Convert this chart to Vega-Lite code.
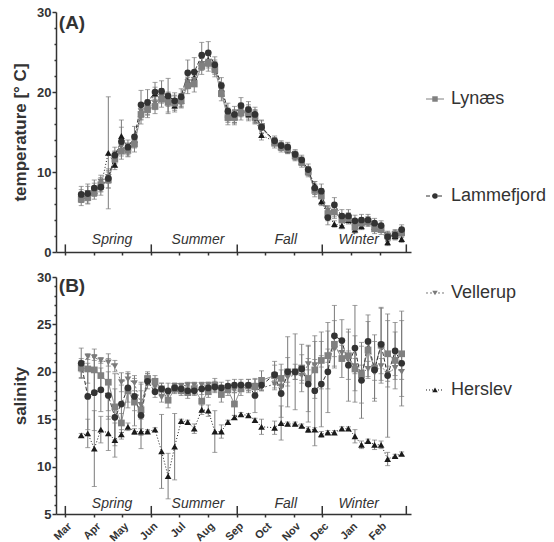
{
"$schema":"https://vega.github.io/schema/vega-lite/v6.json",
"padding":{"left":11,"top":6,"right":0,"bottom":0},
"config":{"view":{"stroke":null},"font":"Liberation Sans",
"axis":{"grid":false,"domainColor":"#333","domainWidth":1.5,"tickColor":"#333","tickWidth":1.5,"labelFont":"Liberation Sans","labelFontWeight":"bold","labelFontSize":13,"labelColor":"#333","labelPadding":1,"titleFont":"Liberation Sans","titleFontWeight":"bold","titleFontSize":17,"titleColor":"#333"}},
"datasets":{
"div":[{"d":"2018-03-01"},{"d":"2018-06-01"},{"d":"2018-09-01"},{"d":"2018-12-01"},{"d":"2019-03-01"}],
"sea":[{"d":"2018-04-20","n":"Spring"},{"d":"2018-07-21","n":"Summer"},{"d":"2018-10-23","n":"Fall"},{"d":"2019-01-09","n":"Winter"}],
"sites":[{"s":"Lynæs"},{"s":"Lammefjord"},{"s":"Vellerup"},{"s":"Herslev"}],
"lab":[{"p":"A","lab":"(A)","d":"2018-02-22"},{"p":"B","lab":"(B)","d":"2018-02-22"}],
"obs":[
{"s":"Herslev","d":"2018-03-18","t":6.8,"te":0.6,"a":13.3,"ae":0.2},
{"s":"Herslev","d":"2018-03-25","t":7.0,"te":0.6,"a":13.5,"ae":1.5},
{"s":"Herslev","d":"2018-04-01","t":7.6,"te":0.6,"a":11.9,"ae":4.0},
{"s":"Herslev","d":"2018-04-08","t":8.2,"te":0.6,"a":13.9,"ae":1.4},
{"s":"Herslev","d":"2018-04-16","t":12.4,"te":7.0,"a":13.5,"ae":1.8},
{"s":"Herslev","d":"2018-04-23","t":10.9,"te":0.6,"a":12.8,"ae":1.8},
{"s":"Herslev","d":"2018-04-30","t":14.5,"te":2.0,"a":13.4,"ae":0.5},
{"s":"Herslev","d":"2018-05-07","t":13.0,"te":0.6,"a":14.2,"ae":0.4},
{"s":"Herslev","d":"2018-05-14","t":14.0,"te":0.6,"a":13.7,"ae":0.3},
{"s":"Herslev","d":"2018-05-21","t":17.3,"te":0.8,"a":13.7,"ae":0.3},
{"s":"Herslev","d":"2018-05-28","t":18.2,"te":0.8,"a":13.7,"ae":0.2},
{"s":"Herslev","d":"2018-06-05","t":19.8,"te":0.8,"a":13.9,"ae":0.2},
{"s":"Herslev","d":"2018-06-12","t":19.6,"te":0.8,"a":11.6,"ae":3.9},
{"s":"Herslev","d":"2018-06-19","t":19.2,"te":0.8,"a":9.0,"ae":2.4},
{"s":"Herslev","d":"2018-06-26","t":18.3,"te":0.8,"a":12.1,"ae":3.5},
{"s":"Herslev","d":"2018-07-03","t":18.9,"te":0.8,"a":14.8,"ae":0.2},
{"s":"Herslev","d":"2018-07-10","t":21.4,"te":0.8,"a":14.7,"ae":0.2},
{"s":"Herslev","d":"2018-07-17","t":21.8,"te":0.8,"a":14.0,"ae":0.5},
{"s":"Herslev","d":"2018-07-25","t":23.6,"te":0.8,"a":16.0,"ae":0.5},
{"s":"Herslev","d":"2018-08-01","t":24.0,"te":0.8,"a":15.9,"ae":0.6},
{"s":"Herslev","d":"2018-08-08","t":23.2,"te":0.8,"a":13.7,"ae":2.2},
{"s":"Herslev","d":"2018-08-15","t":20.4,"te":0.8,"a":13.7,"ae":0.7},
{"s":"Herslev","d":"2018-08-22","t":17.2,"te":0.8,"a":14.7,"ae":0.2},
{"s":"Herslev","d":"2018-08-29","t":16.9,"te":0.8,"a":15.2,"ae":0.2},
{"s":"Herslev","d":"2018-09-05","t":17.8,"te":0.8,"a":15.5,"ae":0.2},
{"s":"Herslev","d":"2018-09-13","t":17.2,"te":0.8,"a":15.4,"ae":0.2},
{"s":"Herslev","d":"2018-09-20","t":16.8,"te":0.8,"a":14.9,"ae":0.2},
{"s":"Herslev","d":"2018-09-27","t":14.6,"te":0.6,"a":14.2,"ae":0.8},
{"s":"Herslev","d":"2018-10-11","t":13.8,"te":0.5,"a":14.1,"ae":0.7},
{"s":"Herslev","d":"2018-10-18","t":13.2,"te":0.5,"a":14.6,"ae":1.8},
{"s":"Herslev","d":"2018-10-25","t":12.8,"te":0.5,"a":14.5,"ae":0.2},
{"s":"Herslev","d":"2018-11-02","t":12.0,"te":0.5,"a":14.5,"ae":0.2},
{"s":"Herslev","d":"2018-11-09","t":11.3,"te":0.5,"a":14.3,"ae":0.2},
{"s":"Herslev","d":"2018-11-16","t":10.2,"te":0.5,"a":13.9,"ae":0.3},
{"s":"Herslev","d":"2018-11-23","t":8.3,"te":0.5,"a":13.9,"ae":0.2},
{"s":"Herslev","d":"2018-11-30","t":6.3,"te":0.5,"a":13.4,"ae":0.3},
{"s":"Herslev","d":"2018-12-07","t":4.6,"te":0.5,"a":13.6,"ae":0.2},
{"s":"Herslev","d":"2018-12-14","t":3.5,"te":0.4,"a":13.6,"ae":0.2},
{"s":"Herslev","d":"2018-12-22","t":3.3,"te":0.4,"a":14.0,"ae":0.2},
{"s":"Herslev","d":"2018-12-29","t":4.0,"te":0.4,"a":14.0,"ae":0.2},
{"s":"Herslev","d":"2019-01-05","t":2.8,"te":0.4,"a":13.2,"ae":0.7},
{"s":"Herslev","d":"2019-01-12","t":3.2,"te":0.4,"a":12.3,"ae":0.4},
{"s":"Herslev","d":"2019-01-19","t":3.8,"te":0.4,"a":12.7,"ae":0.2},
{"s":"Herslev","d":"2019-01-26","t":3.1,"te":0.4,"a":12.3,"ae":0.5},
{"s":"Herslev","d":"2019-02-02","t":2.9,"te":0.4,"a":12.3,"ae":0.4},
{"s":"Herslev","d":"2019-02-09","t":1.2,"te":0.4,"a":10.8,"ae":0.7},
{"s":"Herslev","d":"2019-02-17","t":2.0,"te":0.4,"a":11.1,"ae":0.2},
{"s":"Herslev","d":"2019-02-24","t":1.6,"te":0.4,"a":11.35,"ae":0.2},
{"s":"Vellerup","d":"2018-03-18","t":7.0,"te":0.8,"a":20.6,"ae":0.6},
{"s":"Vellerup","d":"2018-03-25","t":7.4,"te":0.8,"a":21.6,"ae":0.3},
{"s":"Vellerup","d":"2018-04-01","t":7.8,"te":0.8,"a":21.5,"ae":0.3},
{"s":"Vellerup","d":"2018-04-08","t":8.8,"te":0.8,"a":21.2,"ae":0.3},
{"s":"Vellerup","d":"2018-04-16","t":9.4,"te":0.8,"a":21.0,"ae":0.4},
{"s":"Vellerup","d":"2018-04-23","t":11.8,"te":0.8,"a":20.6,"ae":0.6},
{"s":"Vellerup","d":"2018-04-30","t":13.2,"te":0.8,"a":18.9,"ae":1.0},
{"s":"Vellerup","d":"2018-05-07","t":12.8,"te":0.8,"a":19.2,"ae":0.8},
{"s":"Vellerup","d":"2018-05-14","t":13.8,"te":0.8,"a":18.8,"ae":0.8},
{"s":"Vellerup","d":"2018-05-21","t":17.6,"te":0.8,"a":16.5,"ae":1.5},
{"s":"Vellerup","d":"2018-05-28","t":18.0,"te":0.8,"a":19.2,"ae":0.6},
{"s":"Vellerup","d":"2018-06-05","t":18.6,"te":0.8,"a":18.4,"ae":0.5},
{"s":"Vellerup","d":"2018-06-12","t":19.4,"te":0.8,"a":17.3,"ae":0.5},
{"s":"Vellerup","d":"2018-06-19","t":19.0,"te":0.8,"a":17.6,"ae":0.5},
{"s":"Vellerup","d":"2018-06-26","t":18.8,"te":0.8,"a":18.5,"ae":0.3},
{"s":"Vellerup","d":"2018-07-03","t":19.0,"te":0.8,"a":18.5,"ae":0.3},
{"s":"Vellerup","d":"2018-07-10","t":21.2,"te":0.8,"a":18.6,"ae":0.3},
{"s":"Vellerup","d":"2018-07-17","t":21.5,"te":0.8,"a":18.6,"ae":0.3},
{"s":"Vellerup","d":"2018-07-25","t":23.5,"te":0.8,"a":18.6,"ae":0.3},
{"s":"Vellerup","d":"2018-08-01","t":23.8,"te":0.8,"a":18.6,"ae":0.3},
{"s":"Vellerup","d":"2018-08-08","t":23.0,"te":0.8,"a":18.3,"ae":0.3},
{"s":"Vellerup","d":"2018-08-15","t":20.2,"te":0.8,"a":18.3,"ae":0.3},
{"s":"Vellerup","d":"2018-08-22","t":17.0,"te":0.8,"a":18.3,"ae":0.3},
{"s":"Vellerup","d":"2018-08-29","t":17.0,"te":0.8,"a":18.1,"ae":0.3},
{"s":"Vellerup","d":"2018-09-05","t":17.7,"te":0.8,"a":18.5,"ae":0.3},
{"s":"Vellerup","d":"2018-09-13","t":17.6,"te":0.8,"a":18.3,"ae":0.3},
{"s":"Vellerup","d":"2018-09-20","t":17.0,"te":0.8,"a":18.5,"ae":0.3},
{"s":"Vellerup","d":"2018-09-27","t":15.4,"te":0.6,"a":18.3,"ae":0.3},
{"s":"Vellerup","d":"2018-10-11","t":13.8,"te":0.5,"a":18.7,"ae":0.4},
{"s":"Vellerup","d":"2018-10-18","t":13.2,"te":0.5,"a":18.4,"ae":0.4},
{"s":"Vellerup","d":"2018-10-25","t":12.9,"te":0.5,"a":19.4,"ae":0.5},
{"s":"Vellerup","d":"2018-11-02","t":12.1,"te":0.5,"a":19.7,"ae":0.5},
{"s":"Vellerup","d":"2018-11-09","t":11.4,"te":0.5,"a":19.6,"ae":0.5},
{"s":"Vellerup","d":"2018-11-16","t":10.1,"te":0.5,"a":20.8,"ae":0.6},
{"s":"Vellerup","d":"2018-11-23","t":7.8,"te":0.6,"a":20.7,"ae":0.6},
{"s":"Vellerup","d":"2018-11-30","t":7.3,"te":0.6,"a":21.1,"ae":0.6},
{"s":"Vellerup","d":"2018-12-07","t":5.2,"te":0.6,"a":21.7,"ae":0.7},
{"s":"Vellerup","d":"2018-12-14","t":5.0,"te":0.6,"a":22.4,"ae":0.8},
{"s":"Vellerup","d":"2018-12-22","t":4.3,"te":0.5,"a":22.0,"ae":0.8},
{"s":"Vellerup","d":"2018-12-29","t":4.3,"te":0.5,"a":21.4,"ae":0.8},
{"s":"Vellerup","d":"2019-01-05","t":3.4,"te":0.5,"a":20.6,"ae":0.8},
{"s":"Vellerup","d":"2019-01-12","t":3.8,"te":0.5,"a":19.9,"ae":0.8},
{"s":"Vellerup","d":"2019-01-19","t":3.9,"te":0.5,"a":20.3,"ae":0.8},
{"s":"Vellerup","d":"2019-01-26","t":3.2,"te":0.5,"a":19.9,"ae":0.8},
{"s":"Vellerup","d":"2019-02-02","t":3.0,"te":0.5,"a":20.6,"ae":0.8},
{"s":"Vellerup","d":"2019-02-09","t":1.9,"te":0.5,"a":19.8,"ae":0.8},
{"s":"Vellerup","d":"2019-02-17","t":2.1,"te":0.5,"a":20.4,"ae":0.8},
{"s":"Vellerup","d":"2019-02-24","t":2.5,"te":0.5,"a":20.0,"ae":0.8},
{"s":"Lynæs","d":"2018-03-18","t":6.6,"te":0.8,"a":20.4,"ae":1.0},
{"s":"Lynæs","d":"2018-03-25","t":6.8,"te":0.8,"a":20.3,"ae":1.5},
{"s":"Lynæs","d":"2018-04-01","t":7.4,"te":0.8,"a":20.2,"ae":2.2},
{"s":"Lynæs","d":"2018-04-08","t":8.4,"te":0.9,"a":19.6,"ae":1.5},
{"s":"Lynæs","d":"2018-04-16","t":9.0,"te":1.0,"a":18.9,"ae":3.0},
{"s":"Lynæs","d":"2018-04-23","t":11.6,"te":1.0,"a":16.3,"ae":3.5},
{"s":"Lynæs","d":"2018-04-30","t":12.6,"te":1.0,"a":14.6,"ae":1.0},
{"s":"Lynæs","d":"2018-05-07","t":12.7,"te":0.8,"a":18.0,"ae":1.8},
{"s":"Lynæs","d":"2018-05-14","t":13.5,"te":1.0,"a":16.8,"ae":2.5},
{"s":"Lynæs","d":"2018-05-21","t":17.2,"te":1.2,"a":16.0,"ae":2.7},
{"s":"Lynæs","d":"2018-05-28","t":17.8,"te":1.0,"a":19.3,"ae":0.7},
{"s":"Lynæs","d":"2018-06-05","t":18.2,"te":0.9,"a":19.0,"ae":0.6},
{"s":"Lynæs","d":"2018-06-12","t":19.1,"te":1.0,"a":18.2,"ae":0.6},
{"s":"Lynæs","d":"2018-06-19","t":18.7,"te":1.2,"a":17.0,"ae":0.8},
{"s":"Lynæs","d":"2018-06-26","t":18.6,"te":0.9,"a":18.2,"ae":0.5},
{"s":"Lynæs","d":"2018-07-03","t":18.9,"te":0.9,"a":18.0,"ae":0.5},
{"s":"Lynæs","d":"2018-07-10","t":20.8,"te":1.0,"a":17.8,"ae":0.6},
{"s":"Lynæs","d":"2018-07-17","t":21.0,"te":1.0,"a":18.2,"ae":0.6},
{"s":"Lynæs","d":"2018-07-25","t":23.2,"te":1.0,"a":16.9,"ae":1.0},
{"s":"Lynæs","d":"2018-08-01","t":23.6,"te":1.0,"a":17.9,"ae":0.6},
{"s":"Lynæs","d":"2018-08-08","t":22.8,"te":0.9,"a":18.6,"ae":0.7},
{"s":"Lynæs","d":"2018-08-15","t":19.8,"te":0.9,"a":17.6,"ae":0.8},
{"s":"Lynæs","d":"2018-08-22","t":16.8,"te":0.9,"a":18.1,"ae":0.6},
{"s":"Lynæs","d":"2018-08-29","t":16.8,"te":0.9,"a":16.6,"ae":1.2},
{"s":"Lynæs","d":"2018-09-05","t":17.4,"te":0.9,"a":18.2,"ae":0.7},
{"s":"Lynæs","d":"2018-09-13","t":17.4,"te":0.8,"a":18.5,"ae":0.7},
{"s":"Lynæs","d":"2018-09-20","t":16.9,"te":0.8,"a":18.4,"ae":0.8},
{"s":"Lynæs","d":"2018-09-27","t":15.7,"te":0.8,"a":19.1,"ae":1.0},
{"s":"Lynæs","d":"2018-10-11","t":13.6,"te":0.6,"a":19.6,"ae":1.5},
{"s":"Lynæs","d":"2018-10-18","t":13.1,"te":0.6,"a":19.3,"ae":1.5},
{"s":"Lynæs","d":"2018-10-25","t":12.9,"te":0.6,"a":20.0,"ae":3.7},
{"s":"Lynæs","d":"2018-11-02","t":12.0,"te":0.6,"a":20.0,"ae":4.0},
{"s":"Lynæs","d":"2018-11-09","t":11.2,"te":0.6,"a":20.4,"ae":2.5},
{"s":"Lynæs","d":"2018-11-16","t":10.0,"te":0.6,"a":19.3,"ae":3.5},
{"s":"Lynæs","d":"2018-11-23","t":7.7,"te":0.8,"a":20.2,"ae":3.0},
{"s":"Lynæs","d":"2018-11-30","t":7.0,"te":0.8,"a":21.2,"ae":3.0},
{"s":"Lynæs","d":"2018-12-07","t":4.8,"te":0.9,"a":21.7,"ae":3.5},
{"s":"Lynæs","d":"2018-12-14","t":5.0,"te":0.8,"a":22.9,"ae":2.5},
{"s":"Lynæs","d":"2018-12-22","t":4.0,"te":0.7,"a":21.4,"ae":2.0},
{"s":"Lynæs","d":"2018-12-29","t":4.2,"te":0.7,"a":21.7,"ae":2.5},
{"s":"Lynæs","d":"2019-01-05","t":3.1,"te":0.7,"a":20.3,"ae":3.5},
{"s":"Lynæs","d":"2019-01-12","t":3.6,"te":0.6,"a":19.7,"ae":3.0},
{"s":"Lynæs","d":"2019-01-19","t":3.8,"te":0.6,"a":22.3,"ae":3.0},
{"s":"Lynæs","d":"2019-01-26","t":2.9,"te":0.6,"a":20.4,"ae":3.5},
{"s":"Lynæs","d":"2019-02-02","t":2.8,"te":0.6,"a":22.8,"ae":4.0},
{"s":"Lynæs","d":"2019-02-09","t":2.0,"te":0.6,"a":21.9,"ae":3.5},
{"s":"Lynæs","d":"2019-02-17","t":2.2,"te":0.6,"a":21.2,"ae":3.0},
{"s":"Lynæs","d":"2019-02-24","t":2.4,"te":0.6,"a":21.9,"ae":4.5},
{"s":"Lammefjord","d":"2018-03-18","t":7.2,"te":1.0,"a":20.9,"ae":1.6},
{"s":"Lammefjord","d":"2018-03-25","t":7.3,"te":1.2,"a":17.4,"ae":3.5},
{"s":"Lammefjord","d":"2018-04-01","t":8.0,"te":1.0,"a":17.8,"ae":4.0},
{"s":"Lammefjord","d":"2018-04-08","t":8.1,"te":1.0,"a":18.1,"ae":2.3},
{"s":"Lammefjord","d":"2018-04-16","t":9.2,"te":1.2,"a":17.5,"ae":2.5},
{"s":"Lammefjord","d":"2018-04-23","t":12.1,"te":1.0,"a":15.2,"ae":3.0},
{"s":"Lammefjord","d":"2018-04-30","t":13.8,"te":1.8,"a":16.6,"ae":2.0},
{"s":"Lammefjord","d":"2018-05-07","t":13.1,"te":0.9,"a":18.3,"ae":1.5},
{"s":"Lammefjord","d":"2018-05-14","t":14.4,"te":1.3,"a":17.4,"ae":1.5},
{"s":"Lammefjord","d":"2018-05-21","t":18.4,"te":1.8,"a":15.4,"ae":3.5},
{"s":"Lammefjord","d":"2018-05-28","t":18.7,"te":1.6,"a":19.0,"ae":0.8},
{"s":"Lammefjord","d":"2018-06-05","t":20.0,"te":1.2,"a":17.9,"ae":0.6},
{"s":"Lammefjord","d":"2018-06-12","t":20.1,"te":1.3,"a":18.2,"ae":0.6},
{"s":"Lammefjord","d":"2018-06-19","t":19.5,"te":2.2,"a":18.0,"ae":0.8},
{"s":"Lammefjord","d":"2018-06-26","t":18.9,"te":1.0,"a":18.3,"ae":0.5},
{"s":"Lammefjord","d":"2018-07-03","t":19.4,"te":1.0,"a":18.2,"ae":0.5},
{"s":"Lammefjord","d":"2018-07-10","t":22.4,"te":1.6,"a":18.0,"ae":0.5},
{"s":"Lammefjord","d":"2018-07-17","t":22.5,"te":1.8,"a":18.0,"ae":0.5},
{"s":"Lammefjord","d":"2018-07-25","t":24.6,"te":1.6,"a":18.2,"ae":0.6},
{"s":"Lammefjord","d":"2018-08-01","t":24.9,"te":1.4,"a":18.3,"ae":0.6},
{"s":"Lammefjord","d":"2018-08-08","t":23.4,"te":1.0,"a":18.4,"ae":0.6},
{"s":"Lammefjord","d":"2018-08-15","t":20.8,"te":1.0,"a":18.3,"ae":0.6},
{"s":"Lammefjord","d":"2018-08-22","t":17.6,"te":1.0,"a":18.5,"ae":0.6},
{"s":"Lammefjord","d":"2018-08-29","t":17.2,"te":1.0,"a":18.6,"ae":0.6},
{"s":"Lammefjord","d":"2018-09-05","t":18.3,"te":1.0,"a":18.6,"ae":0.6},
{"s":"Lammefjord","d":"2018-09-13","t":17.8,"te":1.0,"a":18.6,"ae":0.6},
{"s":"Lammefjord","d":"2018-09-20","t":17.2,"te":0.9,"a":17.5,"ae":1.8},
{"s":"Lammefjord","d":"2018-09-27","t":15.6,"te":0.8,"a":18.6,"ae":0.6},
{"s":"Lammefjord","d":"2018-10-11","t":13.9,"te":0.6,"a":19.7,"ae":1.0},
{"s":"Lammefjord","d":"2018-10-18","t":13.3,"te":0.6,"a":17.7,"ae":2.5},
{"s":"Lammefjord","d":"2018-10-25","t":13.1,"te":0.6,"a":20.0,"ae":1.5},
{"s":"Lammefjord","d":"2018-11-02","t":12.2,"te":0.6,"a":20.0,"ae":0.8},
{"s":"Lammefjord","d":"2018-11-09","t":11.5,"te":0.6,"a":20.3,"ae":1.5},
{"s":"Lammefjord","d":"2018-11-16","t":10.3,"te":0.7,"a":18.7,"ae":4.0},
{"s":"Lammefjord","d":"2018-11-23","t":8.0,"te":0.8,"a":18.0,"ae":5.8},
{"s":"Lammefjord","d":"2018-11-30","t":7.6,"te":0.9,"a":18.7,"ae":4.5},
{"s":"Lammefjord","d":"2018-12-07","t":4.3,"te":0.9,"a":20.0,"ae":4.3},
{"s":"Lammefjord","d":"2018-12-14","t":5.9,"te":0.9,"a":23.8,"ae":3.2},
{"s":"Lammefjord","d":"2018-12-22","t":4.5,"te":0.8,"a":23.3,"ae":2.2},
{"s":"Lammefjord","d":"2018-12-29","t":4.5,"te":0.8,"a":20.7,"ae":3.8},
{"s":"Lammefjord","d":"2019-01-05","t":3.9,"te":0.7,"a":22.5,"ae":4.5},
{"s":"Lammefjord","d":"2019-01-12","t":4.0,"te":0.7,"a":19.1,"ae":4.0},
{"s":"Lammefjord","d":"2019-01-19","t":4.0,"te":0.7,"a":23.2,"ae":2.8},
{"s":"Lammefjord","d":"2019-01-26","t":3.6,"te":0.6,"a":20.2,"ae":3.0},
{"s":"Lammefjord","d":"2019-02-02","t":3.3,"te":0.6,"a":22.9,"ae":3.8},
{"s":"Lammefjord","d":"2019-02-09","t":1.9,"te":0.6,"a":19.6,"ae":6.5},
{"s":"Lammefjord","d":"2019-02-17","t":2.1,"te":0.6,"a":22.2,"ae":3.0},
{"s":"Lammefjord","d":"2019-02-24","t":2.8,"te":0.6,"a":20.9,"ae":4.5}
]},
"hconcat":[
{"vconcat":[
{"width":355,"height":240,
"encoding":{"x":{"field":"d","type":"temporal","scale":{"type":"utc","domain":[{"year":2018,"month":2,"date":19,"utc":true},{"year":2019,"month":3,"date":6,"utc":true}]},
"axis":{"title":null,"labels":false,"tickSize":3,"values":[{"year":2018,"month":3,"date":1,"utc":true},{"year":2018,"month":4,"date":1,"utc":true},{"year":2018,"month":5,"date":1,"utc":true},{"year":2018,"month":6,"date":1,"utc":true},{"year":2018,"month":7,"date":1,"utc":true},{"year":2018,"month":8,"date":1,"utc":true},{"year":2018,"month":9,"date":1,"utc":true},{"year":2018,"month":10,"date":1,"utc":true},{"year":2018,"month":11,"date":1,"utc":true},{"year":2018,"month":12,"date":1,"utc":true},{"year":2019,"month":1,"date":1,"utc":true},{"year":2019,"month":2,"date":1,"utc":true}]}}},
"layer":[
{"data":{"name":"div"},"mark":{"type":"rule","strokeWidth":1.5,"color":"#333"},"encoding":{"y":{"datum":0,"type":"quantitative","scale":{"domain":[0,30],"nice":false,"zero":false},"axis":{"title":"temperature [° C]","values":[0,2,4,6,8,10,12,14,16,18,20,22,24,26,28,30],"labelExpr":"datum.value % 10 === 0 ? datum.label : ''","tickSize":{"condition":{"test":"datum.value % 10 === 0","value":4},"value":2},"titlePadding":7}},"y2":{"datum":0.95}}},
{"data":{"name":"sea"},"mark":{"type":"text","fontStyle":"italic","fontSize":14,"color":"#333","font":"Liberation Sans"},"encoding":{"y":{"datum":1.5,"type":"quantitative","scale":{"domain":[0,30],"nice":false,"zero":false},"axis":{"title":"temperature [° C]","values":[0,2,4,6,8,10,12,14,16,18,20,22,24,26,28,30],"labelExpr":"datum.value % 10 === 0 ? datum.label : ''","tickSize":{"condition":{"test":"datum.value % 10 === 0","value":4},"value":2},"titlePadding":7}},"text":{"field":"n"}}},
{"data":{"name":"obs"},"mark":{"type":"errorbar","ticks":true,"color":"#7a7a7a","rule":{"strokeWidth":1}},"encoding":{"y":{"field":"t","type":"quantitative","scale":{"domain":[0,30],"nice":false,"zero":false},"axis":{"title":"temperature [° C]","values":[0,2,4,6,8,10,12,14,16,18,20,22,24,26,28,30],"labelExpr":"datum.value % 10 === 0 ? datum.label : ''","tickSize":{"condition":{"test":"datum.value % 10 === 0","value":4},"value":2},"titlePadding":7}},"yError":{"field":"te"}}},
{"data":{"name":"obs"},"mark":{"type":"line","strokeWidth":1},"encoding":{"y":{"field":"t","type":"quantitative","scale":{"domain":[0,30],"nice":false,"zero":false},"axis":{"title":"temperature [° C]","values":[0,2,4,6,8,10,12,14,16,18,20,22,24,26,28,30],"labelExpr":"datum.value % 10 === 0 ? datum.label : ''","tickSize":{"condition":{"test":"datum.value % 10 === 0","value":4},"value":2},"titlePadding":7}},"color":{"field":"s","scale":{"domain":["Lynæs","Lammefjord","Vellerup","Herslev"],"range":["#808080","#333333","#7a7a7a","#1a1a1a"]},"legend":null},"strokeDash":{"field":"s","scale":{"domain":["Lynæs","Lammefjord","Vellerup","Herslev"],"range":[[1,0],[4,2],[2,2],[1,2]]},"legend":null}}},
{"data":{"name":"obs"},"mark":{"type":"point","filled":true,"size":45,"opacity":1},"encoding":{"y":{"field":"t","type":"quantitative","scale":{"domain":[0,30],"nice":false,"zero":false},"axis":{"title":"temperature [° C]","values":[0,2,4,6,8,10,12,14,16,18,20,22,24,26,28,30],"labelExpr":"datum.value % 10 === 0 ? datum.label : ''","tickSize":{"condition":{"test":"datum.value % 10 === 0","value":4},"value":2},"titlePadding":7}},"color":{"field":"s","scale":{"domain":["Lynæs","Lammefjord","Vellerup","Herslev"],"range":["#808080","#333333","#7a7a7a","#1a1a1a"]},"legend":null},"shape":{"field":"s","scale":{"domain":["Lynæs","Lammefjord","Vellerup","Herslev"],"range":["square","circle","triangle-down","triangle-up"]},"legend":null}}},
{"data":{"name":"lab"},"transform":[{"filter":"datum.p === 'A'"}],"mark":{"type":"text","align":"left","baseline":"middle","fontSize":19,"fontWeight":"bold","color":"#333"},"encoding":{"text":{"field":"lab"},"y":{"datum":28.6,"type":"quantitative","scale":{"domain":[0,30],"nice":false,"zero":false},"axis":{"title":"temperature [° C]","values":[0,2,4,6,8,10,12,14,16,18,20,22,24,26,28,30],"labelExpr":"datum.value % 10 === 0 ? datum.label : ''","tickSize":{"condition":{"test":"datum.value % 10 === 0","value":4},"value":2},"titlePadding":7}}}}
]},
{"width":355,"height":237,
"encoding":{"x":{"field":"d","type":"temporal","scale":{"type":"utc","domain":[{"year":2018,"month":2,"date":19,"utc":true},{"year":2019,"month":3,"date":6,"utc":true}]},
"axis":{"title":null,"format":"%b","labelAngle":-45,"labelFontSize":11,"labelPadding":3,"tickSize":3,"values":[{"year":2018,"month":3,"date":1,"utc":true},{"year":2018,"month":4,"date":1,"utc":true},{"year":2018,"month":5,"date":1,"utc":true},{"year":2018,"month":6,"date":1,"utc":true},{"year":2018,"month":7,"date":1,"utc":true},{"year":2018,"month":8,"date":1,"utc":true},{"year":2018,"month":9,"date":1,"utc":true},{"year":2018,"month":10,"date":1,"utc":true},{"year":2018,"month":11,"date":1,"utc":true},{"year":2018,"month":12,"date":1,"utc":true},{"year":2019,"month":1,"date":1,"utc":true},{"year":2019,"month":2,"date":1,"utc":true}]}}},
"layer":[
{"data":{"name":"div"},"mark":{"type":"rule","strokeWidth":1.5,"color":"#333"},"encoding":{"y":{"datum":5,"type":"quantitative","scale":{"domain":[5,30],"nice":false,"zero":false},"axis":{"title":"salinity","values":[5,6,7,8,9,10,11,12,13,14,15,16,17,18,19,20,21,22,23,24,25,26,27,28,29,30],"labelExpr":"datum.value % 5 === 0 ? datum.label : ''","tickSize":{"condition":{"test":"datum.value % 5 === 0","value":4},"value":2},"titlePadding":7}},"y2":{"datum":5.85}}},
{"data":{"name":"sea"},"mark":{"type":"text","fontStyle":"italic","fontSize":14,"color":"#333","font":"Liberation Sans"},"encoding":{"y":{"datum":6.1,"type":"quantitative","scale":{"domain":[5,30],"nice":false,"zero":false},"axis":{"title":"salinity","values":[5,6,7,8,9,10,11,12,13,14,15,16,17,18,19,20,21,22,23,24,25,26,27,28,29,30],"labelExpr":"datum.value % 5 === 0 ? datum.label : ''","tickSize":{"condition":{"test":"datum.value % 5 === 0","value":4},"value":2},"titlePadding":7}},"text":{"field":"n"}}},
{"data":{"name":"obs"},"mark":{"type":"errorbar","ticks":true,"color":"#7a7a7a","rule":{"strokeWidth":1}},"encoding":{"y":{"field":"a","type":"quantitative","scale":{"domain":[5,30],"nice":false,"zero":false},"axis":{"title":"salinity","values":[5,6,7,8,9,10,11,12,13,14,15,16,17,18,19,20,21,22,23,24,25,26,27,28,29,30],"labelExpr":"datum.value % 5 === 0 ? datum.label : ''","tickSize":{"condition":{"test":"datum.value % 5 === 0","value":4},"value":2},"titlePadding":7}},"yError":{"field":"ae"}}},
{"data":{"name":"obs"},"mark":{"type":"line","strokeWidth":1},"encoding":{"y":{"field":"a","type":"quantitative","scale":{"domain":[5,30],"nice":false,"zero":false},"axis":{"title":"salinity","values":[5,6,7,8,9,10,11,12,13,14,15,16,17,18,19,20,21,22,23,24,25,26,27,28,29,30],"labelExpr":"datum.value % 5 === 0 ? datum.label : ''","tickSize":{"condition":{"test":"datum.value % 5 === 0","value":4},"value":2},"titlePadding":7}},"color":{"field":"s","scale":{"domain":["Lynæs","Lammefjord","Vellerup","Herslev"],"range":["#808080","#333333","#7a7a7a","#1a1a1a"]},"legend":null},"strokeDash":{"field":"s","scale":{"domain":["Lynæs","Lammefjord","Vellerup","Herslev"],"range":[[1,0],[4,2],[2,2],[1,2]]},"legend":null}}},
{"data":{"name":"obs"},"mark":{"type":"point","filled":true,"size":45,"opacity":1},"encoding":{"y":{"field":"a","type":"quantitative","scale":{"domain":[5,30],"nice":false,"zero":false},"axis":{"title":"salinity","values":[5,6,7,8,9,10,11,12,13,14,15,16,17,18,19,20,21,22,23,24,25,26,27,28,29,30],"labelExpr":"datum.value % 5 === 0 ? datum.label : ''","tickSize":{"condition":{"test":"datum.value % 5 === 0","value":4},"value":2},"titlePadding":7}},"color":{"field":"s","scale":{"domain":["Lynæs","Lammefjord","Vellerup","Herslev"],"range":["#808080","#333333","#7a7a7a","#1a1a1a"]},"legend":null},"shape":{"field":"s","scale":{"domain":["Lynæs","Lammefjord","Vellerup","Herslev"],"range":["square","circle","triangle-down","triangle-up"]},"legend":null}}},
{"data":{"name":"lab"},"transform":[{"filter":"datum.p === 'B'"}],"mark":{"type":"text","align":"left","baseline":"middle","fontSize":19,"fontWeight":"bold","color":"#333"},"encoding":{"text":{"field":"lab"},"y":{"datum":29.0,"type":"quantitative","scale":{"domain":[5,30],"nice":false,"zero":false},"axis":{"title":"salinity","values":[5,6,7,8,9,10,11,12,13,14,15,16,17,18,19,20,21,22,23,24,25,26,27,28,29,30],"labelExpr":"datum.value % 5 === 0 ? datum.label : ''","tickSize":{"condition":{"test":"datum.value % 5 === 0","value":4},"value":2},"titlePadding":7}}}}
]}
],"spacing":12},
{"width":120,"height":465,"data":{"name":"sites"},
"encoding":{"y":{"field":"s","type":"nominal","sort":["Lynæs","Lammefjord","Vellerup","Herslev"],"scale":{"type":"point","padding":0.897},"axis":null}},
"layer":[
{"mark":{"type":"rule","strokeWidth":1},"encoding":{"x":{"datum":3,"type":"quantitative","scale":{"domain":[0,120]},"axis":null},"x2":{"datum":21},"color":{"field":"s","scale":{"domain":["Lynæs","Lammefjord","Vellerup","Herslev"],"range":["#808080","#333333","#7a7a7a","#1a1a1a"]},"legend":null},"strokeDash":{"field":"s","scale":{"domain":["Lynæs","Lammefjord","Vellerup","Herslev"],"range":[[1,0],[4,2],[2,2],[1,2]]},"legend":null}}},
{"mark":{"type":"point","filled":true,"size":30,"opacity":1},"encoding":{"x":{"datum":12,"type":"quantitative","scale":{"domain":[0,120]},"axis":null},"color":{"field":"s","scale":{"domain":["Lynæs","Lammefjord","Vellerup","Herslev"],"range":["#808080","#333333","#7a7a7a","#1a1a1a"]},"legend":null},"shape":{"field":"s","scale":{"domain":["Lynæs","Lammefjord","Vellerup","Herslev"],"range":["square","circle","triangle-down","triangle-up"]},"legend":null}}},
{"mark":{"type":"text","align":"left","baseline":"middle","fontSize":18,"color":"#333","font":"Liberation Sans"},"encoding":{"x":{"datum":28,"type":"quantitative","scale":{"domain":[0,120]},"axis":null},"text":{"field":"s"}}}
]}
],
"spacing":12
}
